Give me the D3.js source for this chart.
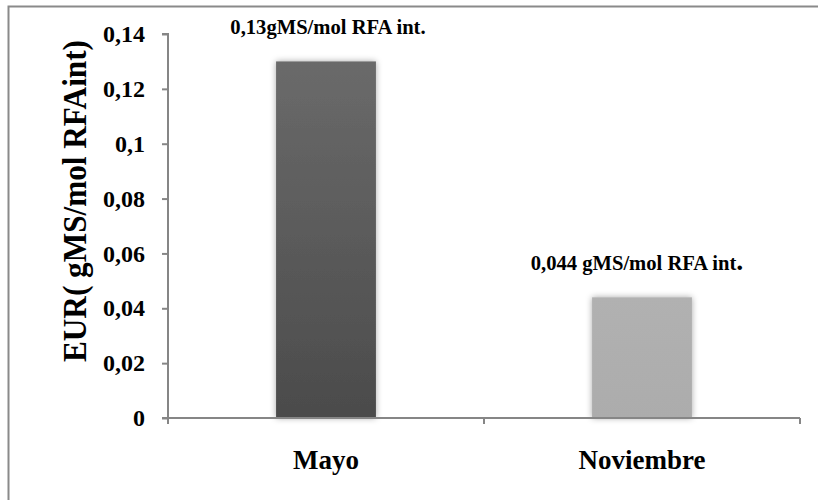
<!DOCTYPE html>
<html>
<head>
<meta charset="utf-8">
<script src="https://cdn.jsdelivr.net/npm/d3@7"></script>
<style>
  html, body { margin: 0; padding: 0; background: #fff; }
  svg { display: block; }
</style>
</head>
<body>
<svg id="chart" width="818" height="500"></svg>
<script>
const categories = ["Mayo", "Noviembre"];
const values = [0.13, 0.044];
const barLabels = ["0,13gMS/mol RFA int.", "0,044 gMS/mol RFA int"];
const barLabelSuffix = ["", "."];
const yTicks = [0, 0.02, 0.04, 0.06, 0.08, 0.1, 0.12, 0.14];
const yTickLabels = ["0", "0,02", "0,04", "0,06", "0,08", "0,1", "0,12", "0,14"];
const yTitle = "EUR( gMS/mol RFAint)";

(function () {
const FONT = "Liberation Serif";
const svg = d3.select("#chart");
const mLeft = 168, mRight = 800, mTop = 34, mBottom = 418;

// outer frame (only top and left visible)
svg.append("rect").attr("x", 8.5).attr("y", 6.5).attr("width", 830).attr("height", 520)
  .attr("fill", "none").attr("stroke", "#8a8a8a").attr("stroke-width", 2);

const defs = svg.append("defs");
const grad = defs.append("linearGradient").attr("id", "g0").attr("x1", 0).attr("y1", 0).attr("x2", 0).attr("y2", 1);
grad.append("stop").attr("offset", "0%").attr("stop-color", "#6a6a6a");
grad.append("stop").attr("offset", "100%").attr("stop-color", "#4b4b4b");
const grad2 = defs.append("linearGradient").attr("id", "g1").attr("x1", 0).attr("y1", 0).attr("x2", 0).attr("y2", 1);
grad2.append("stop").attr("offset", "0%").attr("stop-color", "#b1b1b1");
grad2.append("stop").attr("offset", "100%").attr("stop-color", "#acacac");
const f = defs.append("filter").attr("id", "sh").attr("x", "-30%").attr("y", "-30%").attr("width", "160%").attr("height", "160%");
f.append("feDropShadow").attr("dx", 0).attr("dy", 0).attr("stdDeviation", 3).attr("flood-color", "#000").attr("flood-opacity", 0.35);

const x = d3.scaleBand().domain(categories).range([mLeft, mRight]).paddingInner(0.684).paddingOuter(0.342);
const y = d3.scaleLinear().domain([0, 0.14]).range([mBottom, mTop]);

// bars
svg.selectAll("rect.bar").data(categories).enter().append("rect")
  .attr("class", "bar")
  .attr("x", d => x(d))
  .attr("width", x.bandwidth())
  .attr("y", (d, i) => y(values[i]))
  .attr("height", (d, i) => y(0) - y(values[i]))
  .attr("fill", (d, i) => `url(#g${i})`)
  .attr("filter", "url(#sh)");

// y axis
const yAxis = d3.axisLeft(y).tickValues(yTicks).tickFormat((d, i) => yTickLabels[i]).tickSize(6).tickPadding(17);
const gy = svg.append("g").attr("transform", `translate(${mLeft},0)`).call(yAxis)
  .attr("font-family", FONT).attr("font-size", 24).attr("font-weight", "bold");
gy.select(".domain").attr("stroke", "#868686").attr("stroke-width", 2).attr("d", `M-6,${mTop}H0V${mBottom}H-6`);
gy.selectAll(".tick line").attr("stroke", "#868686").attr("stroke-width", 2);
gy.selectAll(".tick text").attr("fill", "#000").attr("font-family", FONT).attr("font-weight", "bold").attr("font-size", 24);

// x axis
const xBoundary = d3.scaleBand().domain(categories).range([mLeft, mRight]);
const gx = svg.append("g").attr("transform", `translate(0,${mBottom})`);
gx.append("line").attr("x1", mLeft).attr("x2", mRight).attr("stroke", "#868686").attr("stroke-width", 2);
const bounds = categories.map(c => xBoundary(c)).concat([mRight]);
gx.selectAll("line.t").data(bounds).enter().append("line").attr("class", "t")
  .attr("x1", d => d).attr("x2", d => d).attr("y1", 0).attr("y2", 6)
  .attr("stroke", "#868686").attr("stroke-width", 2);
gx.selectAll("text.cat").data(categories).enter().append("text").attr("class", "cat")
  .attr("x", d => x(d) + x.bandwidth() / 2).attr("y", 51)
  .attr("text-anchor", "middle")
  .attr("font-family", FONT).attr("font-weight", "bold").attr("font-size", 27).attr("fill", "#000")
  .text(d => d);

// bar value labels
const lbl = svg.selectAll("text.val").data(categories).enter().append("text").attr("class", "val")
  .attr("x", d => x(d) + x.bandwidth() / 2 + (d === "Mayo" ? 2 : -5))
  .attr("y", (d, i) => y(values[i]) - 27)
  .attr("text-anchor", "middle")
  .attr("font-family", FONT).attr("font-weight", "bold").attr("font-size", 20.6).attr("fill", "#000");
lbl.append("tspan").text((d, i) => barLabels[i]);
lbl.append("tspan").attr("font-size", 28).text((d, i) => barLabelSuffix[i]);

// y title
svg.append("text").attr("transform", "translate(86,201) rotate(-90)")
  .attr("text-anchor", "middle")
  .attr("font-family", FONT).attr("font-weight", "bold").attr("font-size", 33).attr("fill", "#000")
  .attr("textLength", 322).attr("lengthAdjust", "spacingAndGlyphs")
  .text(yTitle);
})();
</script>
</body>
</html>
